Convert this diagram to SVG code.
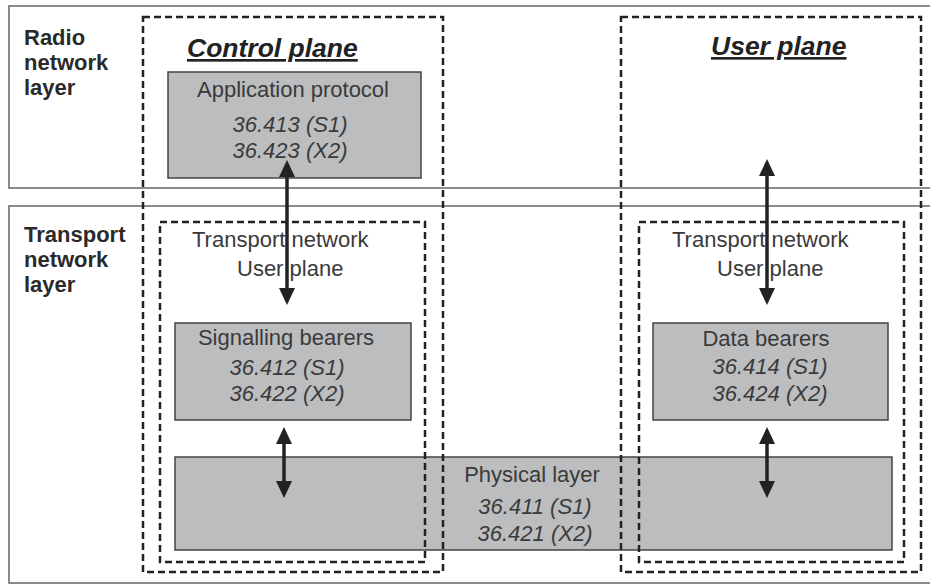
<svg xmlns="http://www.w3.org/2000/svg" width="930" height="584" viewBox="0 0 930 584">
<style>
.layer{fill:#fff;stroke:#666;stroke-width:1.5}
.box{fill:#bcbdbf;stroke:#444;stroke-width:1.5}
.dash{fill:none;stroke:#222;stroke-width:2.5;stroke-dasharray:7 4}
.lbl{font-family:"Liberation Sans",Arial,sans-serif;font-weight:bold;font-size:22px;fill:#2a2a2a}
.title{font-family:"Liberation Sans",Arial,sans-serif;font-weight:bold;font-style:italic;font-size:26.5px;fill:#222;text-decoration:underline}
.t{font-family:"Liberation Sans",Arial,sans-serif;font-size:22px;fill:#3a3a3a}
.i{font-family:"Liberation Sans",Arial,sans-serif;font-size:22px;font-style:italic;fill:#3a3a3a}
.arrow{stroke:#222;stroke-width:3.5;fill:none;marker-start:url(#ah);marker-end:url(#ah)}
</style>
<defs>
<marker id="ah" markerUnits="userSpaceOnUse" viewBox="0 0 17 16" markerWidth="17" markerHeight="16" refX="3" refY="8" orient="auto-start-reverse">
<path d="M0,0 L17,8 L0,16 z" fill="#222"/>
</marker>
</defs>
<rect width="930" height="584" fill="#fff"/>

<g id="radio-layer">
<rect class="layer" x="9" y="6" width="930" height="182"/>
<text class="lbl" x="24" y="45">Radio</text>
<text class="lbl" x="24" y="70">network</text>
<text class="lbl" x="24" y="95">layer</text>
</g>
<g id="transport-layer">
<rect class="layer" x="9" y="206" width="930" height="377"/>
<text class="lbl" x="24" y="242">Transport</text>
<text class="lbl" x="24" y="267">network</text>
<text class="lbl" x="24" y="292">layer</text>
</g>

<g id="application-protocol">
<rect class="box" x="168" y="72" width="253" height="106"/>
<text class="t" x="293" y="97" text-anchor="middle">Application protocol</text>
<text class="i" x="290" y="132" text-anchor="middle">36.413 (S1)</text>
<text class="i" x="290" y="158" text-anchor="middle">36.423 (X2)</text>
</g>

<g id="signalling-bearers">
<rect class="box" x="175" y="323" width="236" height="97"/>
<text class="t" x="286" y="345" text-anchor="middle">Signalling bearers</text>
<text class="i" x="287" y="375" text-anchor="middle">36.412 (S1)</text>
<text class="i" x="287" y="401" text-anchor="middle">36.422 (X2)</text>
</g>

<g id="data-bearers">
<rect class="box" x="653" y="323" width="235" height="97"/>
<text class="t" x="766" y="346" text-anchor="middle">Data bearers</text>
<text class="i" x="770" y="374" text-anchor="middle">36.414 (S1)</text>
<text class="i" x="770" y="401" text-anchor="middle">36.424 (X2)</text>
</g>

<g id="physical-layer">
<rect class="box" x="175" y="457" width="717" height="93"/>
<text class="t" x="532" y="482" text-anchor="middle">Physical layer</text>
<text class="i" x="535" y="514" text-anchor="middle">36.411 (S1)</text>
<text class="i" x="535" y="541" text-anchor="middle">36.421 (X2)</text>
</g>

<g id="control-plane">
<rect class="dash" x="143" y="17" width="300" height="555"/>
<text class="title" x="187" y="57">Control plane</text>
</g>
<g id="user-plane">
<rect class="dash" x="621" y="17" width="300" height="555"/>
<text class="title" x="711" y="55">User plane</text>
</g>
<g id="cp-transport-user-plane">
<rect class="dash" x="160" y="222" width="265" height="340"/>
<text class="t" x="192" y="247">Transport network</text>
<text class="t" x="237" y="276">User plane</text>
</g>
<g id="up-transport-user-plane">
<rect class="dash" x="639" y="222" width="265" height="340"/>
<text class="t" x="672" y="247">Transport network</text>
<text class="t" x="717" y="276">User plane</text>
</g>

<g id="connectors">
<line class="arrow" x1="287" y1="174" x2="287" y2="291"/>
<line class="arrow" x1="767" y1="173" x2="767" y2="291"/>
<line class="arrow" x1="284" y1="441" x2="284" y2="484"/>
<line class="arrow" x1="767" y1="441" x2="767" y2="484"/>
</g>
</svg>
